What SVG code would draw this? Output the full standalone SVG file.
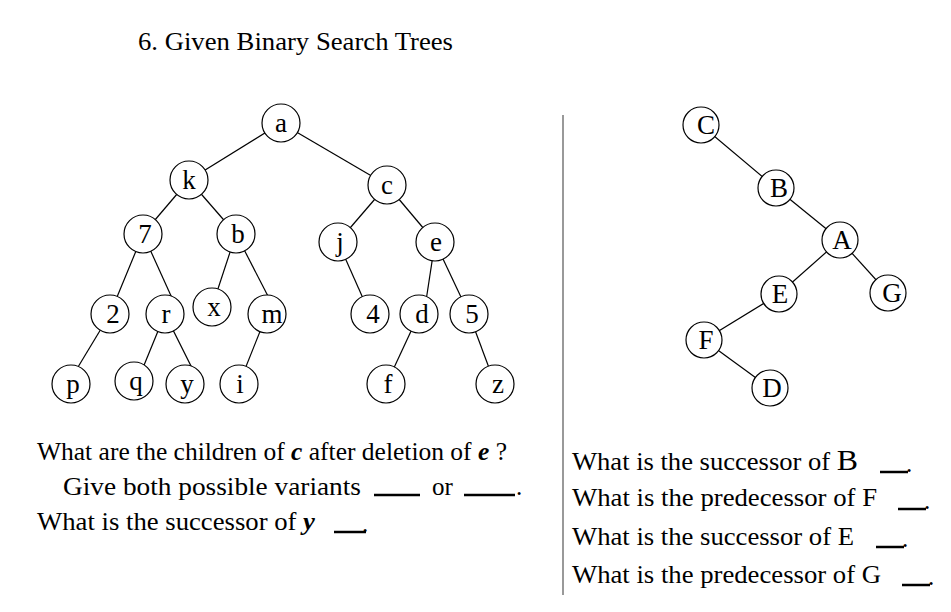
<svg xmlns="http://www.w3.org/2000/svg" width="951" height="612" viewBox="0 0 951 612" font-family="'Liberation Serif','Times New Roman','DejaVu Serif',serif">
<style>
text{font-family:"Liberation Serif","Times New Roman","DejaVu Serif",serif;fill:#000}
.n circle{fill:#fff;stroke:#000;stroke-width:1.2}
.n text{font-size:27px;text-anchor:middle}
#edges line{stroke:#000;stroke-width:1.2}
.q{font-size:25px}
.bl{stroke:#000;stroke-width:2.5}
</style>
<rect width="951" height="612" fill="#fff"/>
<text x="138" y="50" font-size="25" textLength="315" lengthAdjust="spacingAndGlyphs">6. Given Binary Search Trees</text>
<line x1="563" y1="115" x2="563" y2="595" stroke="#777" stroke-width="1.5"/>
<g id="edges">
<line x1="281" y1="123" x2="189" y2="180"/><line x1="281" y1="123" x2="387" y2="185"/>
<line x1="189" y1="180" x2="143" y2="234"/><line x1="189" y1="180" x2="236" y2="234"/>
<line x1="387" y1="185" x2="338" y2="242"/><line x1="387" y1="185" x2="435" y2="242"/>
<line x1="143" y1="234" x2="110" y2="314"/><line x1="143" y1="234" x2="172" y2="298"/>
<line x1="236" y1="234" x2="212" y2="307"/><line x1="236" y1="234" x2="270" y2="300"/>
<line x1="338" y1="242" x2="370" y2="314"/>
<line x1="435" y1="242" x2="424" y2="314"/><line x1="435" y1="242" x2="469" y2="314"/>
<line x1="110" y1="314" x2="75" y2="372"/>
<line x1="165" y1="314" x2="140" y2="375"/><line x1="165" y1="314" x2="193" y2="370"/>
<line x1="267" y1="314" x2="239" y2="384"/>
<line x1="419" y1="314" x2="392" y2="372"/>
<line x1="469" y1="314" x2="495" y2="384"/>
<line x1="701" y1="125" x2="776" y2="188"/><line x1="776" y1="188" x2="840" y2="240"/>
<line x1="840" y1="240" x2="779" y2="294"/><line x1="840" y1="240" x2="888" y2="293"/>
<line x1="779" y1="294" x2="704" y2="340"/><line x1="704" y1="340" x2="770" y2="388"/>
</g>
<g id="n-a" class="n"><circle cx="281" cy="123" r="19"/><text x="281" y="132">a</text></g>
<g id="n-k" class="n"><circle cx="189" cy="180" r="19"/><text x="189" y="189">k</text></g>
<g id="n-c" class="n"><circle cx="387" cy="185" r="19"/><text x="387" y="194">c</text></g>
<g id="n-7" class="n"><circle cx="143" cy="234" r="19"/><text x="145" y="243">7</text></g>
<g id="n-b" class="n"><circle cx="236" cy="234" r="19"/><text x="238" y="243">b</text></g>
<g id="n-j" class="n"><circle cx="338" cy="242" r="19"/><text x="340" y="251">j</text></g>
<g id="n-e" class="n"><circle cx="435" cy="242" r="19"/><text x="436" y="251">e</text></g>
<g id="n-2" class="n"><circle cx="110" cy="314" r="19"/><text x="113" y="323">2</text></g>
<g id="n-r" class="n"><circle cx="165" cy="314" r="19"/><text x="166" y="323">r</text></g>
<g id="n-x" class="n"><circle cx="212" cy="307" r="19"/><text x="214" y="316">x</text></g>
<g id="n-m" class="n"><circle cx="267" cy="314" r="19"/><text x="272" y="323">m</text></g>
<g id="n-4" class="n"><circle cx="370" cy="314" r="19"/><text x="373" y="323">4</text></g>
<g id="n-d" class="n"><circle cx="419" cy="314" r="19"/><text x="422" y="323">d</text></g>
<g id="n-5" class="n"><circle cx="469" cy="314" r="19"/><text x="472" y="323">5</text></g>
<g id="n-p" class="n"><circle cx="71" cy="384" r="19"/><text x="73" y="393">p</text></g>
<g id="n-q" class="n"><circle cx="134" cy="381" r="19"/><text x="136" y="390">q</text></g>
<g id="n-y" class="n"><circle cx="185" cy="384" r="19"/><text x="187" y="393">y</text></g>
<g id="n-i" class="n"><circle cx="239" cy="384" r="19"/><text x="240" y="393">i</text></g>
<g id="n-f" class="n"><circle cx="386" cy="384" r="19"/><text x="388" y="393">f</text></g>
<g id="n-z" class="n"><circle cx="495" cy="384" r="19"/><text x="498" y="393">z</text></g>
<g id="n-C" class="n"><circle cx="701" cy="125" r="18"/><text x="706" y="134">C</text></g>
<g id="n-B" class="n"><circle cx="776" cy="188" r="18"/><text x="779" y="197">B</text></g>
<g id="n-A" class="n"><circle cx="840" cy="240" r="18"/><text x="842" y="249">A</text></g>
<g id="n-E" class="n"><circle cx="779" cy="294" r="18"/><text x="780" y="303">E</text></g>
<g id="n-G" class="n"><circle cx="888" cy="293" r="18"/><text x="892" y="302">G</text></g>
<g id="n-F" class="n"><circle cx="704" cy="340" r="18"/><text x="706" y="349">F</text></g>
<g id="n-D" class="n"><circle cx="770" cy="388" r="18"/><text x="772" y="397">D</text></g>
<text class="q" x="37" y="460" textLength="470" lengthAdjust="spacingAndGlyphs">What are the children of <tspan font-weight="bold" font-style="italic">c</tspan> after deletion of <tspan font-weight="bold" font-style="italic">e</tspan> ?</text>
<text class="q" x="63" y="495" textLength="298" lengthAdjust="spacingAndGlyphs">Give both possible  variants</text>
<line class="bl" x1="374" y1="495" x2="420" y2="495"/>
<text class="q" x="432" y="495">or</text>
<line class="bl" x1="464" y1="495" x2="515" y2="495"/>
<text class="q" x="516" y="495">.</text>
<text class="q" x="37" y="530" textLength="278" lengthAdjust="spacingAndGlyphs">What is the successor of <tspan font-weight="bold" font-style="italic">y</tspan></text>
<line class="bl" x1="334" y1="532" x2="366" y2="532"/><text class="q" x="362" y="532">.</text>
<text class="q" x="572" y="470" textLength="286" lengthAdjust="spacingAndGlyphs">What is the successor of <tspan font-size="30">B</tspan></text>
<line class="bl" x1="880" y1="472" x2="908" y2="472"/><text class="q" x="906" y="472">.</text>
<text class="q" x="572" y="506" textLength="305" lengthAdjust="spacingAndGlyphs">What is the predecessor of F</text>
<line class="bl" x1="898" y1="509" x2="926" y2="509"/><text class="q" x="924" y="509">.</text>
<text class="q" x="572" y="545" textLength="282" lengthAdjust="spacingAndGlyphs">What is the successor of E</text>
<line class="bl" x1="876" y1="547" x2="904" y2="547"/><text class="q" x="902" y="547">.</text>
<text class="q" x="572" y="583" textLength="309" lengthAdjust="spacingAndGlyphs">What is the predecessor of G</text>
<line class="bl" x1="902" y1="585" x2="930" y2="585"/><text class="q" x="928" y="585">.</text>
</svg>
